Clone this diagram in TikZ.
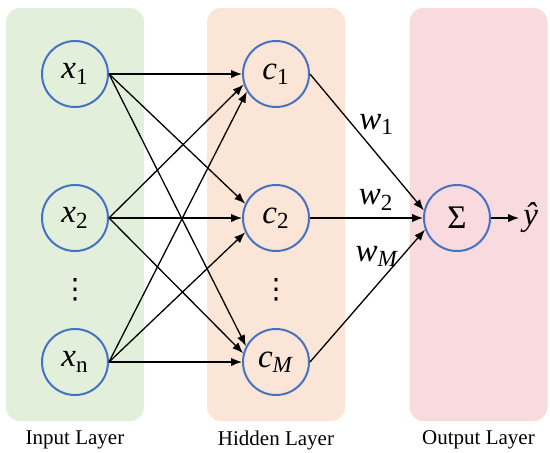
\documentclass[tikz,border=0pt]{standalone}
\usepackage{fontspec}
\setmainfont{Liberation Serif}
\newfontfamily\dotsfont{DejaVu Sans}
\usepackage{tikz}
\usetikzlibrary{positioning, arrows.meta, calc, fit, backgrounds}
\definecolor{NodeBlue}{HTML}{4472C4}
\definecolor{InGreen}{HTML}{E2EFDA}
\definecolor{HidOrange}{HTML}{FBE5D6}
\definecolor{OutPink}{HTML}{F9DADF}

\begin{document}
\begin{tikzpicture}[
  every node/.style={font=\fontsize{16.5}{18}\selectfont},
  neuron/.style={circle, draw=NodeBlue, line width=1pt, minimum size=33pt,
    inner sep=0pt},
  arr/.style={-{Latex[length=5.5pt, width=4.2pt]}, line width=0.65pt},
  layerbox/.style={fill=#1, rounded corners=7pt, inner ysep=0pt,
    inner xsep=34.5pt},
  layerlabel/.style={font=\fontsize{10.5}{12}\selectfont},
  vdots/.style={font=\dotsfont\fontsize{14}{16}\selectfont}
]
  \useasboundingbox (0,0) rectangle (275pt,-226pt);

  % Input layer
  \node[neuron] (x1) at (37.5pt,-37pt) {\textit{x}\textsubscript{1}};
  \node[neuron, below=38pt of x1] (x2) {\textit{x}\textsubscript{2}};
  \node[neuron, below=38pt of x2] (xn) {\textit{x}\textsubscript{n}};
  \node[vdots] (xdots) at ($(x2)!0.5!(xn)$) {⋮};

  % Hidden layer
  \node[neuron, right=66.5pt of x1] (c1) {\textit{c}\textsubscript{1}};
  \node[neuron, right=66.5pt of x2] (c2) {\textit{c}\textsubscript{2}};
  \node[neuron, right=66.5pt of xn] (cM) {\textit{c}\textsubscript{\textit{M}}};
  \node[vdots] (cdots) at ($(c2)!0.5!(cM)$) {⋮};

  % Output layer
  \node[neuron, right=56.5pt of c2] (sigma) {Σ};
  \node[right=14pt of sigma, inner sep=2pt] (yhat) {\textit{ŷ}};

  % Input -> hidden
  \foreach \i/\j/\a in {1/1/180, 1/2/155, 1/M/152, 2/1/198, 2/2/180,
      2/M/165, n/1/211, n/2/205, n/M/180}
    \draw[arr] (x\i.east) -- (c\j.\a);

  % Hidden -> output
  \draw[arr] (c1.east) -- (sigma.167)
    node[pos=.585, yshift=14.5pt] (w1) {\textit{w}\textsubscript{1}};
  \draw[arr] (c2.east) -- (sigma.west)
    node[pos=.585, yshift=9pt] (w2) {\textit{w}\textsubscript{2}};
  \draw[arr] (cM.east) -- (sigma.200)
    node[pos=.585, yshift=14pt] (wM) {\textit{w}\textsubscript{\textit{M}}};
  \draw[arr] (sigma) -- (yhat);

  % Layer boxes
  \begin{scope}[on background layer]
    \node[layerbox=InGreen, fit={($(x1.north)+(0,16pt)$) ($(xn.south)+(0,-12.5pt)$)}] (inbox) {};
    \node[layerbox=HidOrange, fit={($(c1.north)+(0,16pt)$) ($(cM.south)+(0,-12.5pt)$)}] (hidbox) {};
    \node[layerbox=OutPink, fit={($(sigma |- x1.north)+(10.75pt,16pt)$) ($(sigma |- xn.south)+(10.75pt,-12.5pt)$)}] (outbox) {};
  \end{scope}

  \node[layerlabel, below=1pt of inbox] (inlab) {Input Layer};
  \node[layerlabel, below=1pt of hidbox] (hidlab) {Hidden Layer};
  \node[layerlabel, below=1pt of outbox] (outlab) {Output Layer};
\end{tikzpicture}
\end{document}
